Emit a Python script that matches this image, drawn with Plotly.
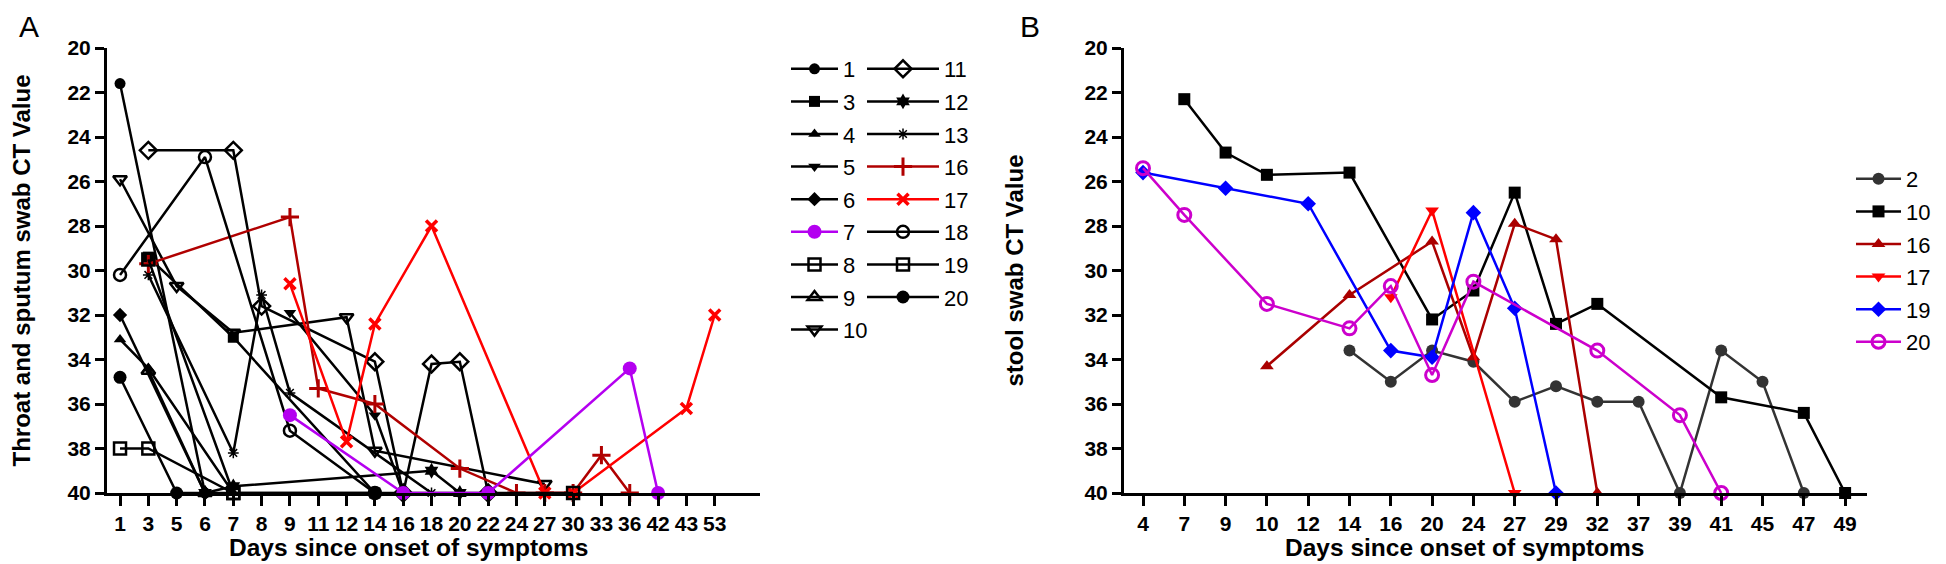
import plotly.graph_objects as go

# ---------------- Panel A data ----------------
days_a = ["1", "3", "5", "6", "7", "8", "9", "11", "12", "14", "16", "18", "20",
          "22", "24", "27", "30", "33", "36", "42", "43", "53"]

a1_x = ["1", "6"];                     a1_y = [21.6, 40]
a3_x = ["3", "7", "14"];               a3_y = [29.4, 33.0, 40]
a4_x = ["1", "3", "7"];                a4_y = [33.1, 34.4, 40]
a5_x = ["9", "14", "16"];              a5_y = [31.9, 36.5, 40]
a6_x = ["1", "6"];                     a6_y = [32.0, 40]
a7_x = ["9", "16", "22", "36", "42"];  a7_y = [36.5, 40, 40, 34.4, 40]
a8_x = ["1", "3", "7"];                a8_y = [38.0, 38.0, 40]
a9_x = ["3", "6"];                     a9_y = [34.5, 40]
a10_x = ["1", "5", "7", "12", "14", "27"]; a10_y = [25.9, 30.7, 32.8, 32.1, 38.1, 39.6]
a11_x = ["3", "7", "8", "14", "16", "18", "20", "22"]
a11_y = [24.6, 24.6, 31.6, 34.1, 40, 34.2, 34.1, 40]
a12_x = ["6", "7", "18", "20"];        a12_y = [40, 39.7, 39.0, 40]
a13_x = ["3", "7", "8", "9", "18"];    a13_y = [30.2, 38.2, 31.1, 35.5, 40]
a16_x = ["3", "9", "11", "14", "20", "24", "27", "30", "33", "36"]
a16_y = [29.7, 27.6, 35.3, 36.0, 38.9, 40, 40, 40, 38.3, 40]
a17_x = ["9", "12", "14", "18", "27", "30", "43", "53"]
a17_y = [30.6, 37.7, 32.4, 28.0, 40, 40, 36.2, 32.0]
a18_x = ["1", "6", "9", "14"];         a18_y = [30.2, 24.9, 37.2, 40]
a19_x = ["3", "7", "30"];              a19_y = [29.5, 40, 40]
a20_x = ["1", "5", "14"];              a20_y = [34.8, 40, 40]

# ---------------- Panel B data ----------------
days_b = ["4", "7", "9", "10", "12", "14", "16", "20", "24", "27", "29", "32",
          "37", "39", "41", "45", "47", "49"]

b2_x = ["14", "16", "20", "24", "27", "29", "32", "37", "39", "41", "45", "47"]
b2_y = [33.6, 35.0, 33.6, 34.1, 35.9, 35.2, 35.9, 35.9, 40, 33.6, 35.0, 40]
b10_x = ["7", "9", "10", "14", "20", "24", "27", "29", "32", "41", "47", "49"]
b10_y = [22.3, 24.7, 25.7, 25.6, 32.2, 30.9, 26.5, 32.4, 31.5, 35.7, 36.4, 40]
b16_x = ["10", "14", "20", "24", "27", "29", "32"]
b16_y = [34.3, 31.1, 28.7, 33.9, 27.9, 28.6, 40]
b17_x = ["16", "20", "27"];            b17_y = [31.2, 27.3, 40]
b19_x = ["4", "9", "12", "16", "20", "24", "27", "29"]
b19_y = [25.6, 26.3, 27.0, 33.6, 33.9, 27.4, 31.7, 40]
b20_x = ["4", "7", "10", "14", "16", "20", "24", "32", "39", "41"]
b20_y = [25.4, 27.5, 31.5, 32.6, 30.7, 34.7, 30.5, 33.6, 36.5, 40]

BLACK = "#000000"
DRED = "#b00000"
RED = "#ff0000"
PURPLE = "#b400f0"

# figure geometry (pixels); the page places the figure 8px from the corner
W, H = 1946, 564
OFF = 8
ML, MT = 107 - OFF, 48 - OFF
MR = W - (1867 - OFF)
MB = H - (493 - OFF)
PW, PH = W - ML - MR, H - MT - MB

def sx(px):  # screen pixel x -> paper
    return (px - OFF - ML) / PW

def sy(py):  # screen pixel y -> paper
    return (H - MB - (py - OFF)) / PH

fig = go.Figure()

def add(x, y, name, color, symbol, size, xa, ya, legend, rank, mlw=0, lw=2.5):
    fig.add_trace(go.Scatter(
        x=x, y=y, name=name, mode="lines+markers",
        line=dict(color=color, width=lw),
        marker=dict(symbol=symbol, size=size, color=color,
                    line=dict(color=color, width=mlw)),
        xaxis=xa, yaxis=ya, legend=legend, legendgroup=legend + name,
        legendrank=rank, cliponaxis=False,
    ))

# panel A, column 1
add(a1_x, a1_y, "1", BLACK, "circle", 11, "x", "y", "legend", 1)
add(a3_x, a3_y, "3", BLACK, "square", 11, "x", "y", "legend", 2)
add(a4_x, a4_y, "4", BLACK, "triangle-up", 11, "x", "y", "legend", 3)
add(a5_x, a5_y, "5", BLACK, "triangle-down", 11, "x", "y", "legend", 4)
add(a6_x, a6_y, "6", BLACK, "diamond", 11, "x", "y", "legend", 5)
add(a8_x, a8_y, "8", BLACK, "square-open", 12, "x", "y", "legend", 7, mlw=2.5)
add(a9_x, a9_y, "9", BLACK, "triangle-up-open", 12, "x", "y", "legend", 8, mlw=2.5)
add(a10_x, a10_y, "10", BLACK, "triangle-down-open", 12, "x", "y", "legend", 9, mlw=2.5)
# panel A, column 2
add(a11_x, a11_y, "11", BLACK, "diamond-open", 13, "x", "y", "legend2", 11, mlw=2.5)
add(a12_x, a12_y, "12", BLACK, "hexagram", 12, "x", "y", "legend2", 12)
add(a13_x, a13_y, "13", BLACK, "asterisk-open", 9, "x", "y", "legend2", 13, mlw=1.5)
add(a16_x, a16_y, "16", DRED, "cross-thin-open", 13, "x", "y", "legend2", 14, mlw=3)
add(a17_x, a17_y, "17", RED, "x-thin-open", 11, "x", "y", "legend2", 15, mlw=3.5)
add(a18_x, a18_y, "18", BLACK, "circle-open", 12, "x", "y", "legend2", 16, mlw=2.5)
add(a19_x, a19_y, "19", BLACK, "square-open", 12, "x", "y", "legend2", 17, mlw=2.5)
add(a20_x, a20_y, "20", BLACK, "circle", 13, "x", "y", "legend2", 18)
add(a7_x, a7_y, "7", PURPLE, "circle", 14, "x", "y", "legend", 6)

# panel B
add(b2_x, b2_y, "2", "#333333", "circle", 12, "x2", "y2", "legend3", 1)
add(b10_x, b10_y, "10", BLACK, "square", 12, "x2", "y2", "legend3", 2)
add(b16_x, b16_y, "16", "#aa0000", "triangle-up", 12, "x2", "y2", "legend3", 3)
add(b17_x, b17_y, "17", RED, "triangle-down", 12, "x2", "y2", "legend3", 4)
add(b19_x, b19_y, "19", "#0000ff", "diamond", 12, "x2", "y2", "legend3", 5)
add(b20_x, b20_y, "20", "#cc00cc", "circle-open", 13, "x2", "y2", "legend3", 6, mlw=3)

FONT = "Liberation Sans, Arial, sans-serif"
tickfont = dict(family=FONT, size=21, color="black", weight="bold")
titlefont = dict(family=FONT, size=24, color="black", weight="bold")
xtitlefont = dict(family=FONT, size=24.5, color="black", weight="bold")

def xaxis(domain, cats, rng, anchor):
    return dict(domain=domain, anchor=anchor, type="category",
                categoryorder="array", categoryarray=cats, range=rng,
                showgrid=False, zeroline=False, automargin=False,
                showline=True, linecolor="black", linewidth=3,
                ticks="outside", ticklen=10, tickwidth=2.5, tickcolor="black",
                tickfont=tickfont, tickangle=0)

def yaxis(anchor, title, standoff):
    return dict(anchor=anchor, range=[40, 20], tickmode="array",
                tickvals=list(range(20, 41, 2)), showgrid=False, zeroline=False,
                automargin=False,
                showline=True, linecolor="black", linewidth=3,
                ticks="outside", ticklen=9, tickwidth=2.5, tickcolor="black",
                tickfont=tickfont,
                title=dict(text=title, font=titlefont, standoff=standoff))

legfont = dict(family=FONT, size=22, color="black")
leg_common = dict(xanchor="left", yanchor="top", font=legfont, tracegroupgap=1.0,
                  bgcolor="rgba(0,0,0,0)", maxheight=500)

fig.update_layout(
    width=W, height=H,
    margin=dict(l=ML, r=MR, t=MT, b=MB, autoexpand=False),
    paper_bgcolor="white", plot_bgcolor="white",
    font=dict(family=FONT, color="black"),
    xaxis=xaxis([0, sx(760)], days_a, [-0.46, 22.6], "y"),
    yaxis=yaxis("x", "Throat and sputum swab CT Value", 42),
    xaxis2=xaxis([sx(1124), 1.0], days_b, [-0.46, 17.53], "y2"),
    yaxis2=yaxis("x2", "stool swab CT Value", 55),
    legend=dict(x=sx(786), y=sy(48), itemwidth=47, **leg_common),
    legend2=dict(x=sx(862), y=sy(48), itemwidth=72, **leg_common),
    legend3=dict(x=sx(1851), y=sy(158), itemwidth=45, **leg_common),
    showlegend=True,
    annotations=[
        dict(text="A", x=sx(29), y=sy(8), xref="paper", yref="paper",
             xanchor="center", yanchor="top",
             showarrow=False, font=dict(family=FONT, size=30, color="black")),
        dict(text="B", x=sx(1030), y=sy(8), xref="paper", yref="paper",
             xanchor="center", yanchor="top",
             showarrow=False, font=dict(family=FONT, size=30, color="black")),
        dict(text="Days since onset of symptoms", x=sx(408), y=sy(547),
             xref="paper", yref="paper", xanchor="center", yanchor="middle",
             showarrow=False, font=xtitlefont),
        dict(text="Days since onset of symptoms", x=sx(1464), y=sy(547),
             xref="paper", yref="paper", xanchor="center", yanchor="middle",
             showarrow=False, font=xtitlefont),
    ],
)

fig.write_html("out.html")
